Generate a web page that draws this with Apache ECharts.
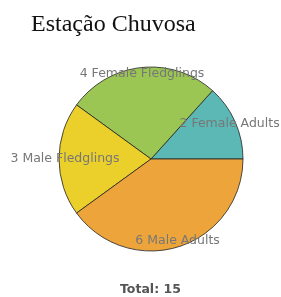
<!DOCTYPE html>
<html><head><meta charset="utf-8">
<script src="https://cdn.jsdelivr.net/npm/echarts@6/dist/echarts.min.js"></script>
<style>html,body{margin:0;padding:0;background:#fff}#c{width:281px;height:297px}</style>
</head><body><div id="c"></div>
<script>
const categories = ['2 Female Adults', '4 Female Fledglings', '3 Male Fledglings', '6 Male Adults'];
const values = [2, 4, 3, 6];
const colors = ['#5bb8b4', '#9bc653', '#ebcf2b', '#eda53b'];
const titleText = 'Estação Chuvosa';
const totalText = 'Total: 15';

const chart = echarts.init(document.getElementById('c'), null, {renderer: 'canvas'});
const data = categories.map((c, i) => ({name: c, value: values[i], itemStyle: {color: colors[i]}}));
const center = [151, 159];
const R = 92;
chart.setOption({
  animation: false,
  title: [{
    text: titleText, left: 26, top: 8,
    textStyle: {fontFamily: 'Liberation Serif', fontSize: 24, fontWeight: 'normal', color: '#111'}
  }, {
    text: totalText, left: 115, top: 278,
    textStyle: {fontFamily: 'DejaVu Sans', fontSize: 12.5, fontWeight: 'bold', color: '#555'}
  }],
  series: [{
    type: 'pie', center: center, radius: [0, R], startAngle: 0, clockwise: false,
    data: data, silent: true,
    itemStyle: {borderColor: '#222', borderWidth: 0.8},
    label: {show: false}, labelLine: {show: false}
  }, {
    type: 'pie', center: center, radius: [77, 89], startAngle: 0, clockwise: false,
    data: categories.map((c, i) => ({name: c, value: values[i]})), silent: true,
    itemStyle: {color: 'rgba(0,0,0,0)', borderWidth: 0},
    label: {show: true, position: 'inside', formatter: '{b}', rotate: 0,
      fontFamily: 'DejaVu Sans', fontSize: 12.5, color: '#777'},
    labelLine: {show: false}
  }]
});
</script></body></html>
